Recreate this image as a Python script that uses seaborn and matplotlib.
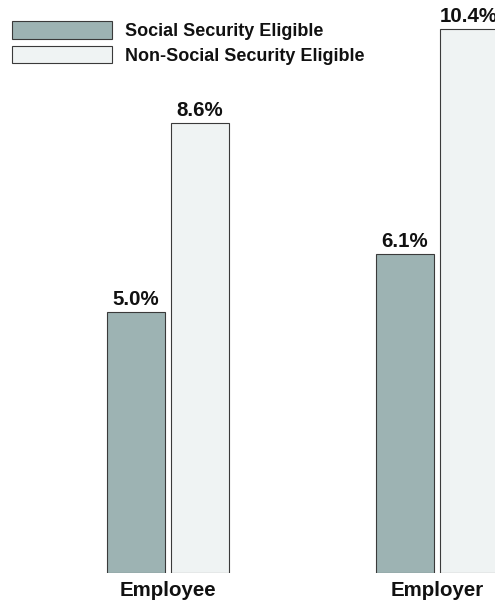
import matplotlib
matplotlib.use("Agg")
import matplotlib.pyplot as plt
import seaborn as sns
import pandas as pd

# Contribution rates by payer and eligibility group
payers = ["Employee", "Employer"]
groups = ["Social Security Eligible", "Non-Social Security Eligible"]
ss_eligible = [5.0, 6.1]
non_ss_eligible = [8.6, 10.4]

df = pd.DataFrame({
    "payer": payers * 2,
    "group": [groups[0]] * len(payers) + [groups[1]] * len(payers),
    "rate": ss_eligible + non_ss_eligible,
})

sns.set_theme(style="white")
plt.rcParams["font.family"] = ["Liberation Sans", "DejaVu Sans"]

W, H = 495, 604
fig = plt.figure(figsize=(W / 100, H / 100), dpi=100)
ax = fig.add_axes([0, 31 / H, 1, 573 / H])

palette = {groups[0]: "#9db3b3", groups[1]: "#eff3f3"}
sns.barplot(
    data=df, x="payer", y="rate", hue="group", order=payers, hue_order=groups,
    palette=palette, width=0.476, gap=0.094, edgecolor="#3a3a3a",
    linewidth=0.8, saturation=1, ax=ax, legend=True,
)

for cont in ax.containers:
    ax.bar_label(cont, fmt="%.1f%%", padding=2, fontsize=14.8,
                 fontweight="bold", color="#111111", clip_on=True)

ax.set_xlim(-168 / 269, 327 / 269)
ax.set_ylim(0, 573 / 52.3)
ax.set_xlabel("")
ax.set_ylabel("")
ax.set_yticks([])
ax.tick_params(axis="x", length=0, pad=6)
for lbl in ax.get_xticklabels():
    lbl.set_fontweight("bold")
    lbl.set_fontsize(14.8)
    lbl.set_color("#111111")
sns.despine(ax=ax, left=True, bottom=True)

handles, labels = ax.get_legend_handles_labels()
ax.get_legend().remove()
leg = fig.legend(
    handles, labels, loc="upper left",
    bbox_to_anchor=(12 / W, 1 - 21 / H), bbox_transform=fig.transFigure,
    frameon=False, borderpad=0, borderaxespad=0,
    handlelength=5.54, handleheight=1.12, handletextpad=0.72,
    labelspacing=0.32, prop={"weight": "bold", "size": 13},
)
for t in leg.get_texts():
    t.set_color("#111111")

fig.savefig("out.png", dpi=100)
